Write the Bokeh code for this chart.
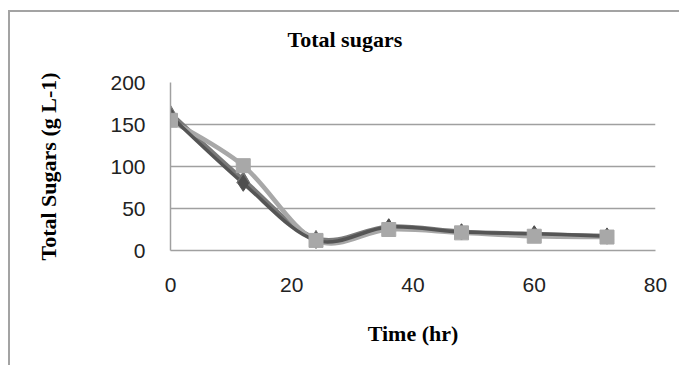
import numpy as np
from bokeh.plotting import figure
from bokeh.models import Range1d, FixedTicker, Title
from bokeh.embed import file_html
from bokeh.resources import INLINE

# ---- data ----
time_hr = [0, 12, 24, 36, 48, 60, 72]
series_diamond = [160, 80, 12, 28, 22, 20, 17]
series_square = [155, 101, 12, 25, 21, 17, 16]
series_triangle = [164, 85, 15, 29, 23, 20, 18]
x_ticks = [0, 20, 40, 60, 80]
y_ticks = [0, 50, 100, 150, 200]

title_text = "Total sugars"
x_title = "Time (hr)"
y_title = "Total Sugars (g L-1)"


def smooth_segments(xs, ys):
    """Bezier control points (Catmull-Rom style, like a spreadsheet's smoothed line)."""
    x = np.asarray(xs, float)
    y = np.asarray(ys, float)
    xp = np.concatenate([[x[0]], x, [x[-1]]])
    yp = np.concatenate([[y[0]], y, [y[-1]]])
    x0, y0 = x[:-1], y[:-1]
    x1, y1 = x[1:], y[1:]
    cx0 = x0 + (xp[2:-1] - xp[0:-3]) / 6.0
    cy0 = y0 + (yp[2:-1] - yp[0:-3]) / 6.0
    cx1 = x1 - (xp[3:] - xp[1:-2]) / 6.0
    cy1 = y1 - (yp[3:] - yp[1:-2]) / 6.0
    return dict(x0=x0, y0=y0, x1=x1, y1=y1, cx0=cx0, cy0=cy0, cx1=cx1, cy1=cy1)


p = figure(width=671, height=355, output_backend="svg", toolbar_location=None,
           title=None,
           x_range=Range1d(0, 80), y_range=Range1d(0, 200),
           min_border_left=160, min_border_right=26, min_border_top=70,
           min_border_bottom=117)
p.margin = (10, 0, 0, 8)
p.styles = {"border-top": "2px solid #a3a3a3", "border-left": "2px solid #a3a3a3"}
p.outline_line_color = None
p.background_fill_color = "white"
p.border_fill_color = "white"

# spacer between plot area and chart title, then the title itself
p.add_layout(Title(text=" ", text_font_size="1px", standoff=23), "above")
p.add_layout(Title(text=title_text, text_font="Liberation Serif",
                   text_font_size="22px", text_font_style="bold",
                   text_color="black", align="left", offset=117, standoff=10),
             "above")

# grid
p.xgrid.grid_line_color = None
p.ygrid.ticker = FixedTicker(ticks=y_ticks)
p.ygrid.grid_line_color = "#a0a0a0"
p.ygrid.grid_line_width = 1.5

for ax in (p.xaxis[0], p.yaxis[0]):
    ax.axis_line_color = "#a0a0a0"
    ax.axis_line_width = 1.5
    ax.major_tick_line_color = None
    ax.minor_tick_line_color = None
    ax.major_tick_out = 0
    ax.major_tick_in = 0
    ax.major_label_text_font = "Liberation Sans"
    ax.major_label_text_font_size = "21px"
    ax.major_label_text_color = "#222222"
    ax.axis_label_text_font = "Liberation Serif"
    ax.axis_label_text_font_size = "22px"
    ax.axis_label_text_font_style = "bold"
    ax.axis_label_text_color = "black"

p.xaxis.ticker = FixedTicker(ticks=x_ticks)
p.yaxis.ticker = FixedTicker(ticks=y_ticks)
p.xaxis.major_label_standoff = 27
p.yaxis.major_label_standoff = 25
p.xaxis.axis_label = x_title
p.yaxis.axis_label = y_title
p.xaxis.axis_label_standoff = 26
p.yaxis.axis_label_standoff = 46

# lines (smoothed)
p.bezier(**smooth_segments(time_hr, series_triangle), line_color="#7a7a7a",
         line_width=3.5, line_cap="round")
p.bezier(**smooth_segments(time_hr, series_square), line_color="#a8a8a8",
         line_width=4.5, line_cap="round")
p.bezier(**smooth_segments(time_hr, series_diamond), line_color="#555555",
         line_width=3.5, line_cap="round")

# markers
p.scatter(time_hr, series_triangle, marker="triangle", size=13,
          fill_color="#6e6e6e", line_color="#6e6e6e")
p.scatter(time_hr, series_diamond, marker="diamond", size=16,
          fill_color="#4f4f4f", line_color="#4f4f4f")
p.scatter(time_hr, series_square, marker="square", size=14,
          fill_color="#a8a8a8", line_color="#a8a8a8")

open("out.html", "w").write(file_html(p, INLINE))
